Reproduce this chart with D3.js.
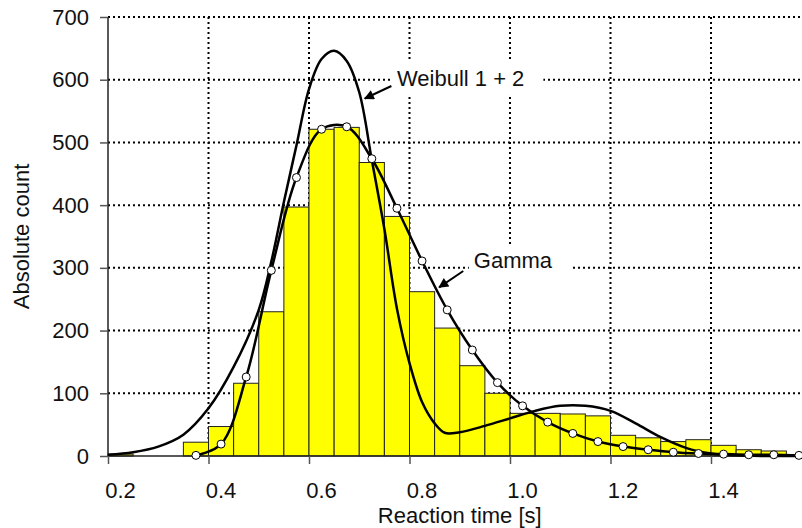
<!DOCTYPE html>
<html>
<head>
<meta charset="utf-8">
<script src="https://cdn.jsdelivr.net/npm/d3@7"></script>
<style>
  body { margin: 0; background: #fff; }
  svg { display: block; font-family: Arial, "Liberation Sans", sans-serif; }
</style>
</head>
<body>
<div id="chart"></div>
<script>
// histogram bins (left edge, width 0.05 s) and counts
var binStarts = [0.20, 0.25, 0.30, 0.35, 0.40, 0.45, 0.50, 0.55, 0.60, 0.65, 0.70, 0.75, 0.80, 0.85,
                 0.90, 0.95, 1.00, 1.05, 1.10, 1.15, 1.20, 1.25, 1.30, 1.35, 1.40, 1.45, 1.50, 1.55];
var binCounts = [3, 0, 0, 22, 47, 116, 230, 397, 521, 524, 468, 382, 262, 204,
                 144, 100, 68, 68, 67, 64, 33, 29, 23, 26, 17, 10, 8, 0];
var binWidth = 0.05;

// gamma fit, sampled at bin centres (drawn with markers)
var gammaX = [0.375, 0.425, 0.475, 0.525, 0.575, 0.625, 0.675, 0.725, 0.775, 0.825, 0.875, 0.925, 0.975,
              1.025, 1.075, 1.125, 1.175, 1.225, 1.275, 1.325, 1.375, 1.425, 1.475, 1.525, 1.575];
var gammaY = [1, 19, 126, 296, 444, 521, 525, 474, 395, 311, 233, 169, 117,
              80, 54, 36, 23, 15, 10, 6, 4, 3, 2, 2, 1];

// Weibull 1 + 2 curve
var weibullX = [0.20, 0.25, 0.30, 0.35, 0.40, 0.45, 0.50, 0.525, 0.55, 0.575, 0.60, 0.625, 0.65, 0.675,
                0.70, 0.725, 0.75, 0.775, 0.80, 0.825, 0.85, 0.87, 0.90, 0.95, 1.00, 1.05, 1.10, 1.15,
                1.20, 1.25, 1.30, 1.35, 1.40, 1.45, 1.50, 1.60];
var weibullY = [2, 6, 15, 34, 76, 142, 233, 310, 405, 495, 585, 633, 646, 630,
                580, 472, 362, 235, 148, 86, 52, 37, 38, 48, 60, 72, 80, 80,
                72, 52, 30, 13, 4, 1, 0, 0];

var xTicks = [0.2, 0.4, 0.6, 0.8, 1.0, 1.2, 1.4];
var yTicks = [0, 100, 200, 300, 400, 500, 600, 700];

// labels with arrows (text position, arrow start, arrow tip) in data units
var noteLabels = ["Weibull 1 + 2", "Gamma"];
var noteText = [[0.775, 590], [0.928, 299]];
var noteFrom = [[0.764, 590], [0.907, 295]];
var noteTip = [[0.711, 570], [0.859, 269]];

var width = 802, height = 528;
var plotLeft = 108, plotTop = 17, plotBottom = 456, plotRight = 811.5;
var fontSize = 22;

var x = d3.scaleLinear().domain([0.2, 1.6]).range([plotLeft, plotRight]);
var y = d3.scaleLinear().domain([0, 700]).range([plotBottom, plotTop]);

var svg = d3.select("#chart").append("svg")
    .attr("width", width)
    .attr("height", height);

svg.append("defs").append("marker")
    .attr("id", "head")
    .attr("viewBox", "0 0 10 10")
    .attr("refX", 9).attr("refY", 5)
    .attr("markerWidth", 6).attr("markerHeight", 5)
    .attr("markerUnits", "strokeWidth")
    .attr("orient", "auto")
    .append("path")
    .attr("d", "M0,0 L10,5 L0,10 Z")
    .attr("fill", "#000");

// dotted grid
var grid = svg.append("g");
grid.selectAll(".hg").data(yTicks.slice(1)).enter().append("line")
    .attr("x1", plotLeft).attr("x2", plotRight)
    .attr("y1", function(d) { return y(d); }).attr("y2", function(d) { return y(d); })
    .attr("stroke", "#000").attr("stroke-width", 2).attr("stroke-dasharray", "2,3");
grid.selectAll(".vg").data(xTicks.slice(1).concat([1.6])).enter().append("line")
    .attr("x1", function(d) { return x(d); }).attr("x2", function(d) { return x(d); })
    .attr("y1", plotTop).attr("y2", plotBottom)
    .attr("stroke", "#000").attr("stroke-width", 2).attr("stroke-dasharray", "2,3");

// white boxes behind the labels
var notes = svg.append("g").attr("font-size", fontSize).attr("fill", "#111");
var noteGroups = notes.selectAll("g").data(noteLabels).enter().append("g");
noteGroups.append("rect").attr("fill", "#fff");
noteGroups.append("text")
    .attr("x", function(d, i) { return x(noteText[i][0]); })
    .attr("y", function(d, i) { return y(noteText[i][1]); })
    .text(function(d) { return d; });
noteGroups.each(function() {
    var g = d3.select(this);
    var b = g.select("text").node().getBBox();
    g.select("rect")
        .attr("x", b.x - 5).attr("y", b.y - 4)
        .attr("width", b.width + 24).attr("height", b.height + 10);
});

// histogram bars
svg.append("g").selectAll("rect").data(binStarts).enter().append("rect")
    .attr("x", function(d) { return x(d); })
    .attr("y", function(d, i) { return y(binCounts[i]); })
    .attr("width", function(d) { return x(d + binWidth) - x(d); })
    .attr("height", function(d, i) { return y(0) - y(binCounts[i]); })
    .attr("fill", "#ffff00")
    .attr("stroke", "#222")
    .attr("stroke-width", function(d, i) { return binCounts[i] > 0 ? 1 : 0; });

// axes
var yAxis = svg.append("g")
    .attr("transform", "translate(" + plotLeft + ",0)")
    .call(d3.axisLeft(y).tickValues(yTicks).tickSize(8).tickPadding(11).tickFormat(d3.format("d")));
var xAxis = svg.append("g")
    .attr("transform", "translate(0," + plotBottom + ")")
    .call(d3.axisBottom(x).tickValues(xTicks).tickSize(8).tickPadding(18).tickFormat(d3.format(".1f")));
[xAxis, yAxis].forEach(function(a) {
    a.select(".domain").attr("stroke", "#222").attr("stroke-width", 1.5);
    a.selectAll(".tick line").attr("stroke", "#555").attr("stroke-width", 1.5);
    a.selectAll("text").attr("font-size", fontSize).attr("fill", "#111")
        .attr("font-family", "Arial, 'Liberation Sans', sans-serif");
});
xAxis.selectAll(".tick text").attr("x", 12);
yAxis.select(".domain").attr("d", "M0," + plotTop + "V" + plotBottom);
xAxis.select(".domain").attr("d", "M" + plotLeft + ",0H" + plotRight);

// curves
var line = d3.line()
    .x(function(d) { return x(d[0]); })
    .y(function(d) { return y(d[1]); })
    .curve(d3.curveCatmullRom.alpha(0.5));

var weibull = weibullX.map(function(d, i) { return [d, weibullY[i]]; });
var gamma = gammaX.map(function(d, i) { return [d, gammaY[i]]; });

svg.append("path").datum(weibull)
    .attr("d", line)
    .attr("fill", "none").attr("stroke", "#000").attr("stroke-width", 2.5);
svg.append("path").datum(gamma)
    .attr("d", line)
    .attr("fill", "none").attr("stroke", "#000").attr("stroke-width", 2.5);
svg.append("g").selectAll("circle").data(gamma).enter().append("circle")
    .attr("cx", function(d) { return x(d[0]); })
    .attr("cy", function(d) { return y(d[1]); })
    .attr("r", 4)
    .attr("fill", "#fff").attr("stroke", "#000").attr("stroke-width", 1);

// arrows
svg.append("g").selectAll("line").data(noteLabels).enter().append("line")
    .attr("x1", function(d, i) { return x(noteFrom[i][0]); })
    .attr("y1", function(d, i) { return y(noteFrom[i][1]); })
    .attr("x2", function(d, i) { return x(noteTip[i][0]); })
    .attr("y2", function(d, i) { return y(noteTip[i][1]); })
    .attr("stroke", "#000").attr("stroke-width", 2)
    .attr("marker-end", "url(#head)");

// axis titles
svg.append("text")
    .attr("x", (plotLeft + plotRight) / 2).attr("y", 523)
    .attr("text-anchor", "middle").attr("font-size", fontSize).attr("fill", "#111")
    .text("Reaction time [s]");
svg.append("text")
    .attr("transform", "translate(29," + (plotTop + plotBottom) / 2 + ") rotate(-90)")
    .attr("text-anchor", "middle").attr("font-size", fontSize).attr("fill", "#111")
    .text("Absolute count");
</script>
</body>
</html>
